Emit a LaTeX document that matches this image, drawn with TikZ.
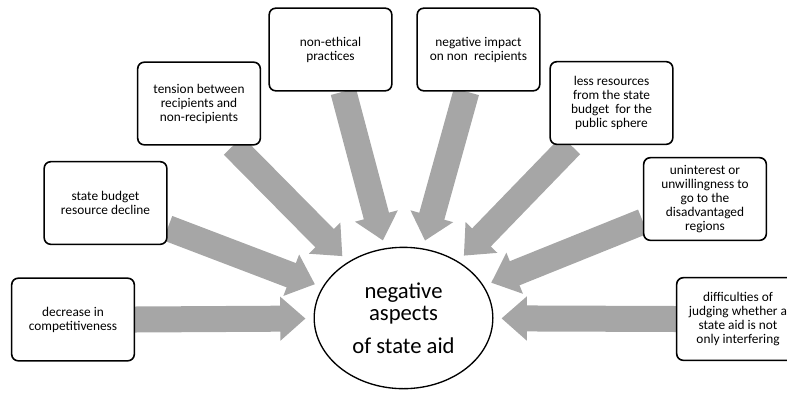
\documentclass[tikz,border=0pt]{standalone}
\usepackage{fontspec}
\setmainfont{Carlito}
\usetikzlibrary{shapes.geometric,arrows.meta,backgrounds}
\definecolor{arrowgray}{RGB}{166,166,166}
\begin{document}
\begin{tikzpicture}[x=0.75pt,y=-0.75pt,
	box/.style={draw, fill=white, line width=1.2pt, rounded corners=5pt, minimum width=92pt, minimum height=62pt, inner sep=1pt, align=center, font=\fontsize{10}{10.5}\selectfont},
	bigarrow/.style={draw=arrowgray, line width=19.5pt, -{Triangle[length=19pt,width=32pt]}, shorten >=6pt}]
			\useasboundingbox (0,0) rectangle (787,393);
			\node[box] (dec) at (73,319.5) {decrease in\\competitiveness};
			\node[box] (budget) at (105.5,203) {state budget\\resource decline};
			\node[box] (tension) at (199,103.5) {tension between\\recipients and\\non-recipients};
			\node[box] (ethical) at (330.5,49.5) {non-ethical\\practices};
			\node[box] (impact) at (478.5,49.5) {negative impact\\on non\ \ recipients};
			\node[box] (resources) at (611.5,103) {less resources\\from the state\\budget\ \ for the\\public sphere};
			\node[box] (unwilling) at (705,199) {uninterest or\\unwillingness to\\go to the\\disadvantaged\\regions};
			\node[box] (judging) at (738,319) {difficulties of\\judging whether a\\state aid is not\\only interfering};
			\node[draw, fill=white, line width=1pt, ellipse, minimum width=134pt, minimum height=106pt, inner sep=0pt, align=center, font=\fontsize{17}{16.5}\selectfont] (aspects) at (403.5,318) {negative\\aspects\\[8pt]of state aid};
			\begin{pgfonlayer}{background}
			\draw [bigarrow] (dec.east) -- (aspects);
			\draw [bigarrow] (budget.-22) -- (aspects);
			\draw [bigarrow] (tension.-51) -- (aspects);
			\draw [bigarrow] (ethical.-73) -- (aspects);
			\draw [bigarrow] (impact.-106) -- (aspects);
			\draw [bigarrow] (resources.-134) -- (aspects);
			\draw [bigarrow] (unwilling.200) -- (aspects);
			\draw [bigarrow] (judging.west) -- (aspects);
			\end{pgfonlayer}
		\end{tikzpicture}
\end{document}
